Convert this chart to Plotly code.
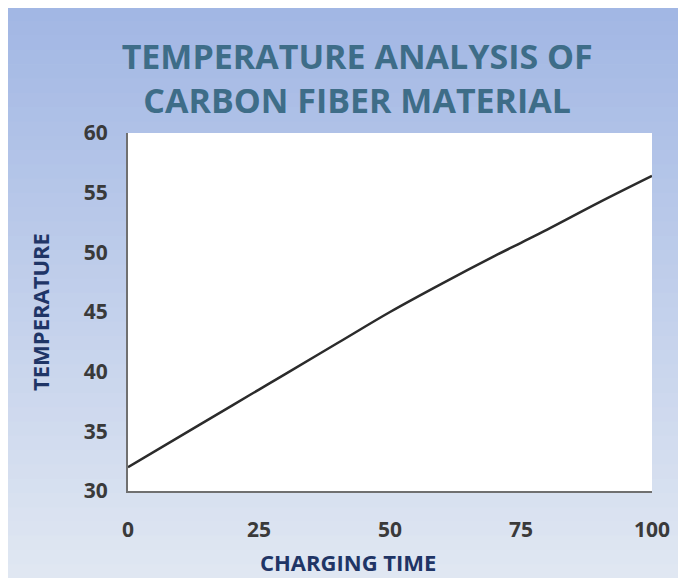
import plotly.graph_objects as go

charging_time = [0, 10, 20, 25, 30, 40, 50, 60, 70, 75, 80, 90, 100]
temperature = [32.0, 34.6, 37.2, 38.5, 39.8, 42.4, 45.0, 47.4, 49.7, 50.8, 51.9, 54.2, 56.4]

x_ticks = [0, 25, 50, 75, 100]
y_ticks = [30, 35, 40, 45, 50, 55, 60]

fig = go.Figure(go.Scatter(
    x=charging_time,
    y=temperature,
    mode="lines",
    line=dict(color="#2b2b2b", width=2.5, shape="spline"),
    showlegend=False,
))

# vertical blue gradient for the whole chart background
top_rgb = (162, 183, 228)
bot_rgb = (224, 231, 242)
n_bands = 40
y_top, y_bot = 1.352, -0.245
shapes = []
for i in range(n_bands):
    t = i / (n_bands - 1)
    c = tuple(round(a + (b - a) * t) for a, b in zip(top_rgb, bot_rgb))
    y1 = y_top + (y_bot - y_top) * i / n_bands
    y0 = y_top + (y_bot - y_top) * (i + 1) / n_bands
    shapes.append(dict(type="rect", xref="paper", yref="paper",
                       x0=-0.235, x1=1.07, y0=y0 - 0.002, y1=y1,
                       fillcolor="rgb(%d,%d,%d)" % c, line_width=0, layer="below"))
# white plotting area on top of the gradient
shapes.append(dict(type="rect", xref="paper", yref="paper", x0=0, x1=1, y0=0, y1=1,
                   fillcolor="white", line_width=0, layer="below"))

tick_font = dict(family="Open Sans", size=21, color="#3a3a3a", weight="bold")
title_font = dict(family="Open Sans", size=22, color="#1f3566", weight="bold")

fig.update_layout(
    width=678,
    height=570,
    margin=dict(l=120, r=34, t=125, b=87),
    paper_bgcolor="rgb(190,205,235)",
    plot_bgcolor="white",
    shapes=shapes,
    title=dict(
        text="TEMPERATURE ANALYSIS OF<br>CARBON FIBER MATERIAL",
        x=0.515, xanchor="center",
        y=0.893, yanchor="middle",
        font=dict(family="Open Sans", size=34, color="#3e6d88", weight="bold"),
    ),
    xaxis=dict(
        range=[0, 100],
        tickvals=x_ticks,
        tickfont=tick_font,
        ticklabelstandoff=19,
        showgrid=False,
        zeroline=False,
        showline=True,
        linecolor="#707070",
        linewidth=2,
        ticks="",
    ),
    yaxis=dict(
        range=[30, 60],
        tickvals=y_ticks,
        tickfont=tick_font,
        ticklabelstandoff=14,
        showgrid=False,
        zeroline=False,
        showline=True,
        linecolor="#707070",
        linewidth=2,
        ticks="",
    ),
    annotations=[
        dict(text="CHARGING TIME", xref="paper", yref="paper", x=0.42, y=-0.198,
             showarrow=False, font=title_font, xanchor="center", yanchor="middle"),
        dict(text="TEMPERATURE", xref="paper", yref="paper", x=-0.168, y=0.5,
             showarrow=False, font=title_font, textangle=-90,
             xanchor="center", yanchor="middle"),
    ],
)

fig.write_html("out.html")
